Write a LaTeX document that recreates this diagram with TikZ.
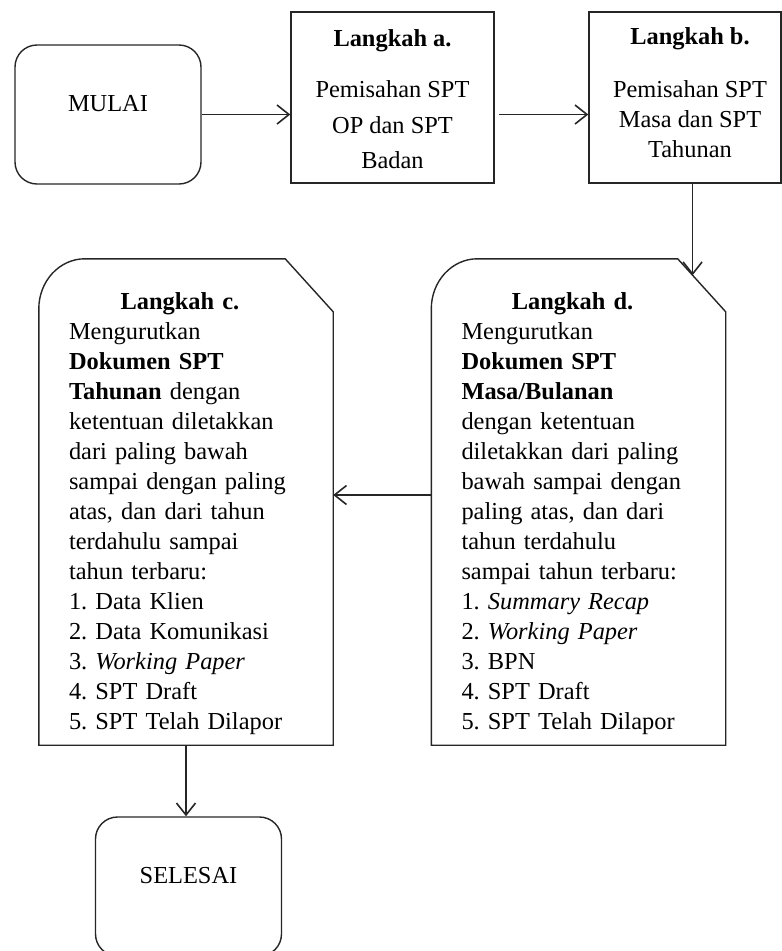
\documentclass[tikz,border=0pt]{standalone}
\usepackage{fontspec}
\setmainfont{Liberation Serif}
\frenchspacing
\usetikzlibrary{arrows.meta,calc}
\begin{document}
\begin{tikzpicture}[x=1pt,y=-1pt,
  line/.style={line width=1.4pt, draw=black!85},
  conn/.style={line, -{Straight Barb[length=12pt,width=19pt,line width=1.6pt]}},
  txt/.style={font=\fontsize{24.4}{30}\selectfont, text=black},
  terminal/.style={line, txt, rounded corners=22pt, minimum width=186pt, minimum height=139pt, text height=8pt, text depth=15pt},
  stepbox/.style={line, txt, rectangle, align=center, inner sep=0pt},
  docbox/.style={txt, inner sep=0pt, minimum width=294pt, minimum height=486pt, text width=234pt, align=left}
]
\useasboundingbox (0,0) rectangle (782,951);

% start / end
\node[terminal] (mulai) at (108,114.5) {MULAI};
\node[terminal] (selesai) at (188.5,886.5) {SELESAI};

% step a and b
\node[stepbox, minimum width=203pt, minimum height=171pt] (a) at (392.5,97.5)
  {\rule{0pt}{20pt}\textbf{Langkah a.}\\[21.5pt]
   Pemisahan SPT\\[6pt]
   OP dan SPT\\[5pt]
   Badan};
\node[stepbox, minimum width=192pt, minimum height=171pt] (b) at (685,97.5)
  {\hspace*{10pt}\textbf{Langkah b.}\\[23pt]
   \hspace*{10pt}Pemisahan SPT\\
   \hspace*{10pt}Masa dan SPT\\
   \hspace*{10pt}Tahunan\rule[-10pt]{0pt}{10pt}};

% step c and d
\node[docbox] (c) at (186,502)
  {\noindent\rule{0pt}{40.4pt}\makebox[222pt]{\textbf{Langkah c.}}\\
   Mengurutkan\\
   \textbf{Dokumen SPT}\\
   \textbf{Tahunan} dengan\\
   ketentuan diletakkan\\
   dari paling bawah\\
   sampai dengan paling\\
   atas, dan dari tahun\\
   terdahulu sampai\\
   tahun terbaru:\\
   1. Data Klien\\
   2. Data Komunikasi\\
   3. \textit{Working Paper}\\
   4. SPT Draft\\
   5. SPT Telah Dilapor};
\node[docbox] (d) at (578.5,502)
  {\noindent\rule{0pt}{40.4pt}\makebox[222pt]{\textbf{Langkah d.}}\\
   Mengurutkan\\
   \textbf{Dokumen SPT}\\
   \textbf{Masa/Bulanan}\\
   dengan ketentuan\\
   diletakkan dari paling\\
   bawah sampai dengan\\
   paling atas, dan dari\\
   tahun terdahulu\\
   sampai tahun terbaru:\\
   1. \textit{Summary Recap}\\
   2. \textit{Working Paper}\\
   3. BPN\\
   4. SPT Draft\\
   5. SPT Telah Dilapor};

% outlines of c and d (snipped and rounded corner)
\foreach \n in {c,d}{
  \coordinate (\n cut1) at ($(\n.north east)+(-48,0)$);
  \coordinate (\n cut2) at ($(\n.north east)+(0,53)$);
  \draw[line] (\n.south west) -- ($(\n.north west)+(0,50)$)
    .. controls ($(\n.north west)+(0,22.4)$) and ($(\n.north west)+(20.6,0)$) ..
    ($(\n.north west)+(46,0)$) -- (\n cut1) -- (\n cut2) -- (\n.south east) -- cycle;
}
\coordinate (dtip) at ($(dcut1)!0.31!(dcut2)$);

% connectors
\draw[conn] (mulai.east) -- (mulai.east -| a.west);
\draw[conn, shorten <=4pt] (a.east |- mulai.east) -- (b.west |- mulai.east);
\draw[conn] (b.south -| dtip) -- (dtip);
\draw[conn] ([yshift=7pt]d.west) -- ([yshift=7pt]c.east);
\draw[conn] (c.south) -- (c.south |- selesai.north);
\end{tikzpicture}
\end{document}
